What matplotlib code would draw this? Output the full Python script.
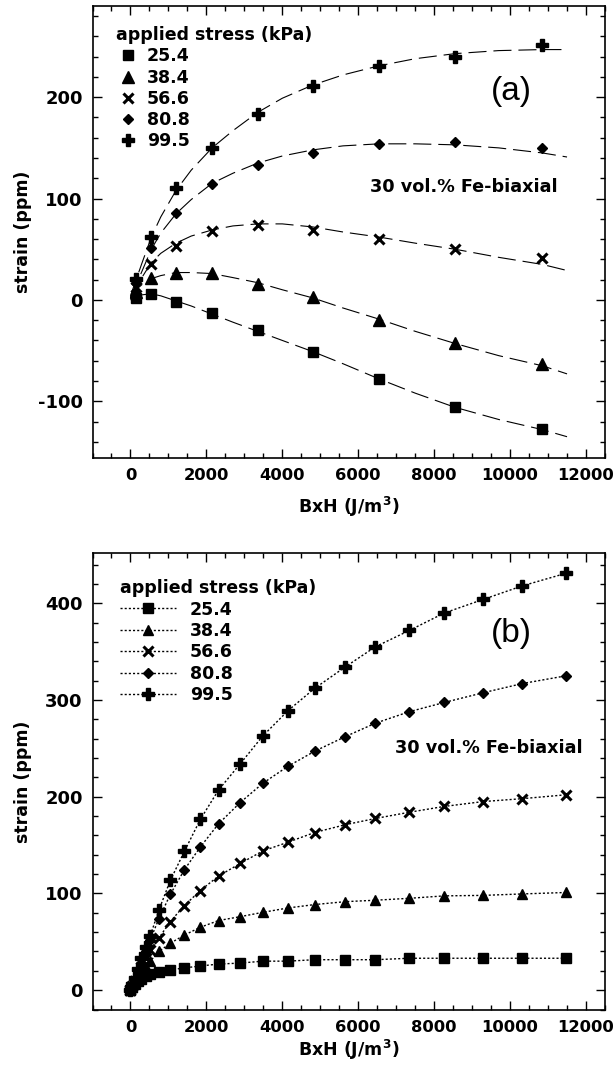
import matplotlib
matplotlib.use("Agg")
import matplotlib.pyplot as plt
from matplotlib.ticker import MultipleLocator

plt.rcParams['font.family'] = ['DejaVu Sans']
plt.rcParams['lines.scale_dashes'] = False
plt.rcParams['axes.unicode_minus'] = False

# ---------------- data ----------------
stress_labels = ["25.4", "38.4", "56.6", "80.8", "99.5"]
markers = ["s", "^", "x", "D", "P"]
legend_title = "applied stress (kPa)"
annot_text = "30 vol.% Fe-biaxial"

# panel (a): measured points
xa = [150, 550, 1200, 2150, 3350, 4800, 6550, 8550, 10850]
ya_254 = [2, 6, -2, -13, -30, -51, -78, -106, -127]
ya_384 = [8, 22, 27, 27, 16, 3, -20, -43, -63]
ya_566 = [13, 35, 53, 68, 74, 69, 60, 50, 41]
ya_808 = [17, 51, 86, 114, 133, 145, 154, 156, 150]
ya_995 = [21, 62, 110, 150, 183, 211, 231, 240, 252]

# panel (a): fitted curves
xfit = [0, 150, 300, 550, 800, 1200, 1600, 2150, 2700, 3350, 4000, 4800,
        5600, 6550, 7500, 8550, 9700, 10850, 11500]
fit_254 = [0, 3, 5, 6, 4, -1, -6, -14, -22, -31, -40, -51, -63, -78, -92,
           -106, -118, -128, -135]
fit_384 = [2, 10, 15, 21, 24, 27, 27, 26, 22, 17, 10, 2, -8, -19, -31,
           -43, -55, -65, -73]
fit_566 = [2, 12, 22, 37, 46, 56, 63, 69, 73, 75, 75, 72, 67, 62, 56,
           50, 42, 35, 29]
fit_808 = [3, 15, 28, 50, 66, 85, 99, 115, 125, 135, 142, 148, 152, 154,
           154, 153, 150, 145, 141]
fit_995 = [4, 20, 36, 62, 82, 108, 128, 150, 167, 185, 199, 212, 222, 231,
           238, 243, 246, 247, 247]

# panel (b): measured points
xb = [0, 50, 110, 200, 290, 400, 520, 750, 1050, 1420, 1840, 2320, 2890,
      3490, 4150, 4850, 5650, 6450, 7350, 8270, 9290, 10320, 11470]
yb_254 = [0, 3, 6, 9, 12, 15, 17, 19, 21, 23, 25, 27, 28, 30, 30, 31.5,
          31.5, 31.5, 33, 33, 33, 33, 33]
yb_384 = [0, 3, 7, 12, 17, 24, 30, 40, 48.5, 57, 65, 72, 76, 80.5, 85,
          88.5, 91.5, 93, 95, 97.5, 98, 99.5, 101]
yb_566 = [0, 4, 9, 16, 24, 33, 42, 54, 71, 87.5, 103, 118, 131, 144,
          153, 163, 171, 177.5, 184, 190, 195, 198, 202]
yb_808 = [0, 5, 11, 19, 28, 40, 52, 74, 99, 124.5, 148, 172, 194, 214,
          231.5, 247, 262, 276, 288, 297.5, 307.5, 317, 325]
yb_995 = [0, 6, 13, 22, 33, 45, 56, 83, 113.5, 143.5, 176.5, 207, 234,
          263, 289, 312, 334, 355, 372, 390, 404, 418, 431]

ya = [ya_254, ya_384, ya_566, ya_808, ya_995]
fits = [fit_254, fit_384, fit_566, fit_808, fit_995]
yb = [yb_254, yb_384, yb_566, yb_808, yb_995]

# ---------------- figure ----------------
W, H = 614, 1072
fig = plt.figure(figsize=(W / 100, H / 100), dpi=100)
L, R = 92.5, 605
axa = fig.add_axes([L / W, (H - 458) / H, (R - L) / W, (458 - 6) / H])
axb = fig.add_axes([L / W, (H - 1010) / H, (R - L) / W, (1010 - 553) / H])

FS = 12.5
XTFS = 11.8
YTFS = 13
msize = {"s": 7.5, "^": 8, "x": 7.5, "D": 5.5, "P": 8.5}
mew = {"s": 1, "^": 1, "x": 2.2, "D": 1, "P": 1}


def style_axes(ax, ylim, ymajor):
    ax.set_xlim(-1000, 12500)
    ax.set_ylim(*ylim)
    ax.xaxis.set_major_locator(MultipleLocator(2000))
    ax.xaxis.set_minor_locator(MultipleLocator(500))
    ax.yaxis.set_major_locator(MultipleLocator(ymajor))
    ax.yaxis.set_minor_locator(MultipleLocator(20))
    ax.tick_params(which='both', direction='in', top=True, right=True,
                   width=1.0, pad=7)
    ax.tick_params(axis='x', labelsize=XTFS)
    ax.tick_params(axis='y', labelsize=YTFS)
    ax.tick_params(which='major', length=6.5)
    ax.tick_params(which='minor', length=3.6)
    for lab in ax.get_xticklabels() + ax.get_yticklabels():
        lab.set_fontweight('bold')
    for sp in ax.spines.values():
        sp.set_linewidth(1.2)
    ax.set_xlabel("BxH (J/m$^\\mathbf{3}$)", fontsize=FS, fontweight='bold')
    ax.set_ylabel("strain (ppm)", fontsize=FS, fontweight='bold')


# ---- panel (a)
handles_a = []
for lab, m, y, f in zip(stress_labels, markers, ya, fits):
    axa.plot(xfit, f, color='black', lw=0.8, linestyle=(0, (13, 5)))
    h, = axa.plot(xa, y, linestyle='none', marker=m, ms=msize[m],
                  mew=mew[m], color='black', label=lab)
    handles_a.append(h)
style_axes(axa, (-156, 290), 100)
axa.yaxis.set_label_coords(-0.136, 0.5)
axa.yaxis.label.set_va('center')
axa.xaxis.set_label_coords(0.5, -0.108)
axa.xaxis.label.set_va('center')
axa.legend(handles=handles_a, title=legend_title, loc='upper left',
           bbox_to_anchor=(0.045, 0.955), frameon=False,
           handlelength=1.44, handletextpad=0.36, labelspacing=0.18,
           borderpad=0, borderaxespad=0, alignment='left',
           prop={'weight': 'bold', 'size': FS},
           title_fontproperties={'weight': 'bold', 'size': FS})
axa.text(0.817, 0.81, "(a)", transform=axa.transAxes, ha='center',
         va='center', fontsize=24, family='Liberation Sans')
axa.text(0.541, 0.599, annot_text, transform=axa.transAxes, ha='left',
         va='center', fontsize=12.7, fontweight='bold')

# ---- panel (b)
handles_b = []
for lab, m, y in zip(stress_labels, markers, yb):
    h, = axb.plot(xb, y, linestyle=(0, (1.5, 1.5)), lw=1.0, marker=m,
                  ms=msize[m] * 0.95, mew=mew[m], color='black', label=lab)
    handles_b.append(h)
style_axes(axb, (-20.5, 452), 100)
axb.yaxis.set_label_coords(-0.136, 0.5)
axb.yaxis.label.set_va('center')
axb.xaxis.set_label_coords(0.5, -0.0875)
axb.xaxis.label.set_va('center')
axb.legend(handles=handles_b, title=legend_title, loc='upper left',
           bbox_to_anchor=(0.053, 0.943), frameon=False,
           handlelength=3.25, handletextpad=0.8, labelspacing=0.2,
           borderpad=0, borderaxespad=0, alignment='left',
           prop={'weight': 'bold', 'size': FS},
           title_fontproperties={'weight': 'bold', 'size': FS})
axb.text(0.818, 0.824, "(b)", transform=axb.transAxes, ha='center',
         va='center', fontsize=24, family='Liberation Sans')
axb.text(0.591, 0.5725, annot_text, transform=axb.transAxes, ha='left',
         va='center', fontsize=12.7, fontweight='bold')

fig.savefig("out.png", dpi=100)
